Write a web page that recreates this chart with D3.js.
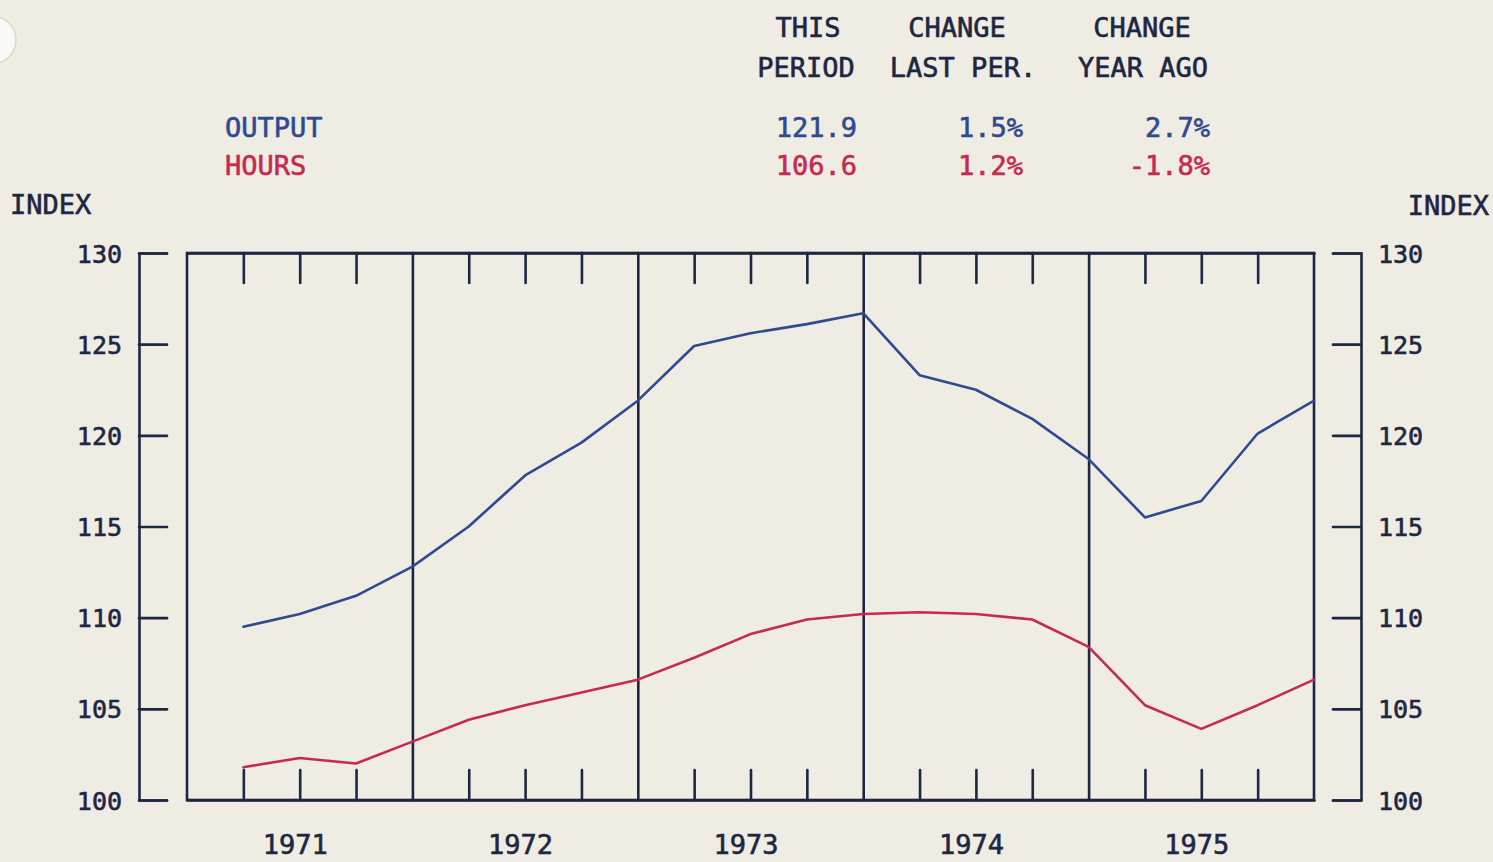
<!DOCTYPE html>
<html>
<head>
<meta charset="utf-8">
<script src="https://cdn.jsdelivr.net/npm/d3@7"></script>
<style>
  html, body { margin: 0; padding: 0; background: #efece4; }
  svg { display: block; }
  text { font-family: "DejaVu Sans Mono", monospace; }
</style>
</head>
<body>
<svg id="chart" width="1493" height="862"></svg>
<script>
// ---- data ----
const years = [1971, 1972, 1973, 1974, 1975];
const quarters = ["1971Q1","1971Q2","1971Q3","1971Q4","1972Q1","1972Q2","1972Q3","1972Q4",
                  "1973Q1","1973Q2","1973Q3","1973Q4","1974Q1","1974Q2","1974Q3","1974Q4",
                  "1975Q1","1975Q2","1975Q3","1975Q4"];
const output = [109.5, 110.2, 111.2, 112.8, 115.0, 117.8, 119.6, 121.9,
                124.9, 125.6, 126.1, 126.7, 123.3, 122.5, 120.9, 118.7,
                115.5, 116.4, 120.1, 121.9];
const hours  = [101.8, 102.3, 102.0, 103.2, 104.4, 105.2, 105.9, 106.6,
                107.8, 109.1, 109.9, 110.2, 110.3, 110.2, 109.9, 108.4,
                105.2, 103.9, 105.2, 106.6];
const yTicks = [100, 105, 110, 115, 120, 125, 130];
const headerCols = [["THIS", "PERIOD"], ["CHANGE", "LAST PER."], ["CHANGE", "YEAR AGO"]];
const seriesNames = ["OUTPUT", "HOURS"];
const thisPeriod = ["121.9", "106.6"];
const changeLast = ["1.5%", "1.2%"];
const changeYear = ["2.7%", "-1.8%"];

// ---- styles ----
const INK = "#1d2742";
const BLUE = "#2f4a8f";
const RED = "#c62a50";
const seriesColors = [BLUE, RED];

const svg = d3.select("#chart");

// punched hole decoration
svg.append("circle").attr("cx", -8).attr("cy", 40).attr("r", 24)
  .attr("fill", "#f9f9f7").attr("stroke", "#d8d6d0").attr("stroke-width", 1.5);

const x = d3.scaleLinear().domain([1971, 1976]).range([187, 1314]);
const y = d3.scaleLinear().domain([100, 130]).range([800, 253]);

function qx(q) { // quarter string -> year position (end of quarter)
  const yr = +q.slice(0, 4), n = +q.slice(5);
  return yr + n / 4;
}

const qTicks = [];
years.forEach(yr => [1, 2, 3].forEach(n => qTicks.push(yr + n / 4)));

function boldText(sel, color) {
  sel.attr("fill", color).attr("stroke", color).attr("stroke-width", 0.6);
}

function styleAxis(g) {
  g.selectAll("path, line").attr("stroke", INK).attr("stroke-width", 2.6)
    .attr("stroke-linecap", "round");
  g.selectAll("text").attr("font-family", '"DejaVu Sans Mono", monospace').call(boldText, INK);
}

// year dividers
svg.append("g").attr("transform", `translate(0,800)`)
  .call(d3.axisBottom(x).tickValues([1972, 1973, 1974, 1975]).tickSize(-547).tickFormat(""))
  .call(g => g.select(".domain").remove())
  .call(styleAxis);

// bottom quarter ticks
svg.append("g").attr("transform", `translate(0,800)`)
  .call(d3.axisBottom(x).tickValues(qTicks).tickSize(-30).tickSizeOuter(0).tickFormat(""))
  .call(styleAxis);
// top quarter ticks
svg.append("g").attr("transform", `translate(0,253)`)
  .call(d3.axisTop(x).tickValues(qTicks).tickSize(-30).tickSizeOuter(0).tickFormat(""))
  .call(styleAxis);
// frame
svg.append("rect")
  .attr("x", x(1971)).attr("y", y(130))
  .attr("width", x(1976) - x(1971)).attr("height", y(100) - y(130))
  .attr("fill", "none").attr("stroke", INK).attr("stroke-width", 2.6);

// year labels
svg.append("g").attr("transform", `translate(-5,800)`)
  .call(d3.axisBottom(x).tickValues(years.map(d => d + 0.5)).tickSize(0).tickPadding(54)
    .tickFormat(d => String(Math.floor(d))))
  .call(g => g.select(".domain").remove())
  .call(styleAxis)
  .call(g => g.selectAll("text").attr("font-size", 27).attr("dy", "0"));

// left axis
svg.append("g").attr("transform", `translate(139,0)`)
  .call(d3.axisRight(y).tickValues(yTicks).tickSize(28).tickSizeOuter(28).tickFormat(d3.format("d")))
  .call(styleAxis)
  .call(g => g.selectAll("text").attr("x", -17).attr("text-anchor", "end")
    .attr("font-size", 25).attr("dy", "0.36em"));

// right axis
svg.append("g").attr("transform", `translate(1361,0)`)
  .call(d3.axisLeft(y).tickValues(yTicks).tickSize(28).tickSizeOuter(28).tickFormat(d3.format("d")))
  .call(styleAxis)
  .call(g => g.selectAll("text").attr("x", 17).attr("text-anchor", "start")
    .attr("font-size", 25).attr("dy", "0.36em"));

// lines
const line = d3.line().x((d, i) => x(qx(quarters[i]))).y(d => y(d));
[output, hours].forEach((s, i) => {
  svg.append("path").datum(s)
    .attr("d", line)
    .attr("fill", "none")
    .attr("stroke", seriesColors[i])
    .attr("stroke-width", 2.6)
    .attr("stroke-linejoin", "round")
    .attr("stroke-linecap", "round");
});

// axis titles
svg.append("text").attr("x", 10).attr("y", 214).attr("font-size", 27).call(boldText, INK).text("INDEX");
svg.append("text").attr("x", 1489).attr("y", 215).attr("font-size", 27)
  .attr("text-anchor", "end").call(boldText, INK).text("INDEX");

// header table
headerCols.forEach((c, i) => {
  const cx = [808, 957, 1142][i];
  const cx2 = [806, 963, 1143][i];
  svg.append("text").attr("x", cx).attr("y", 37).attr("text-anchor", "middle")
    .attr("font-size", 27).call(boldText, INK).text(c[0]);
  svg.append("text").attr("x", cx2).attr("y", 77).attr("text-anchor", "middle")
    .attr("font-size", 27).call(boldText, INK).text(c[1]);
});
const valRight = [857, 1023, 1210];
seriesNames.forEach((name, i) => {
  const yy = [137, 175][i];
  svg.append("text").attr("x", 225).attr("y", yy).attr("font-size", 27)
    .call(boldText, seriesColors[i]).text(name);
  [thisPeriod, changeLast, changeYear].forEach((arr, j) => {
    svg.append("text").attr("x", valRight[j]).attr("y", yy).attr("text-anchor", "end")
      .attr("font-size", 27).call(boldText, seriesColors[i]).text(arr[i]);
  });
});
</script>
</body>
</html>
